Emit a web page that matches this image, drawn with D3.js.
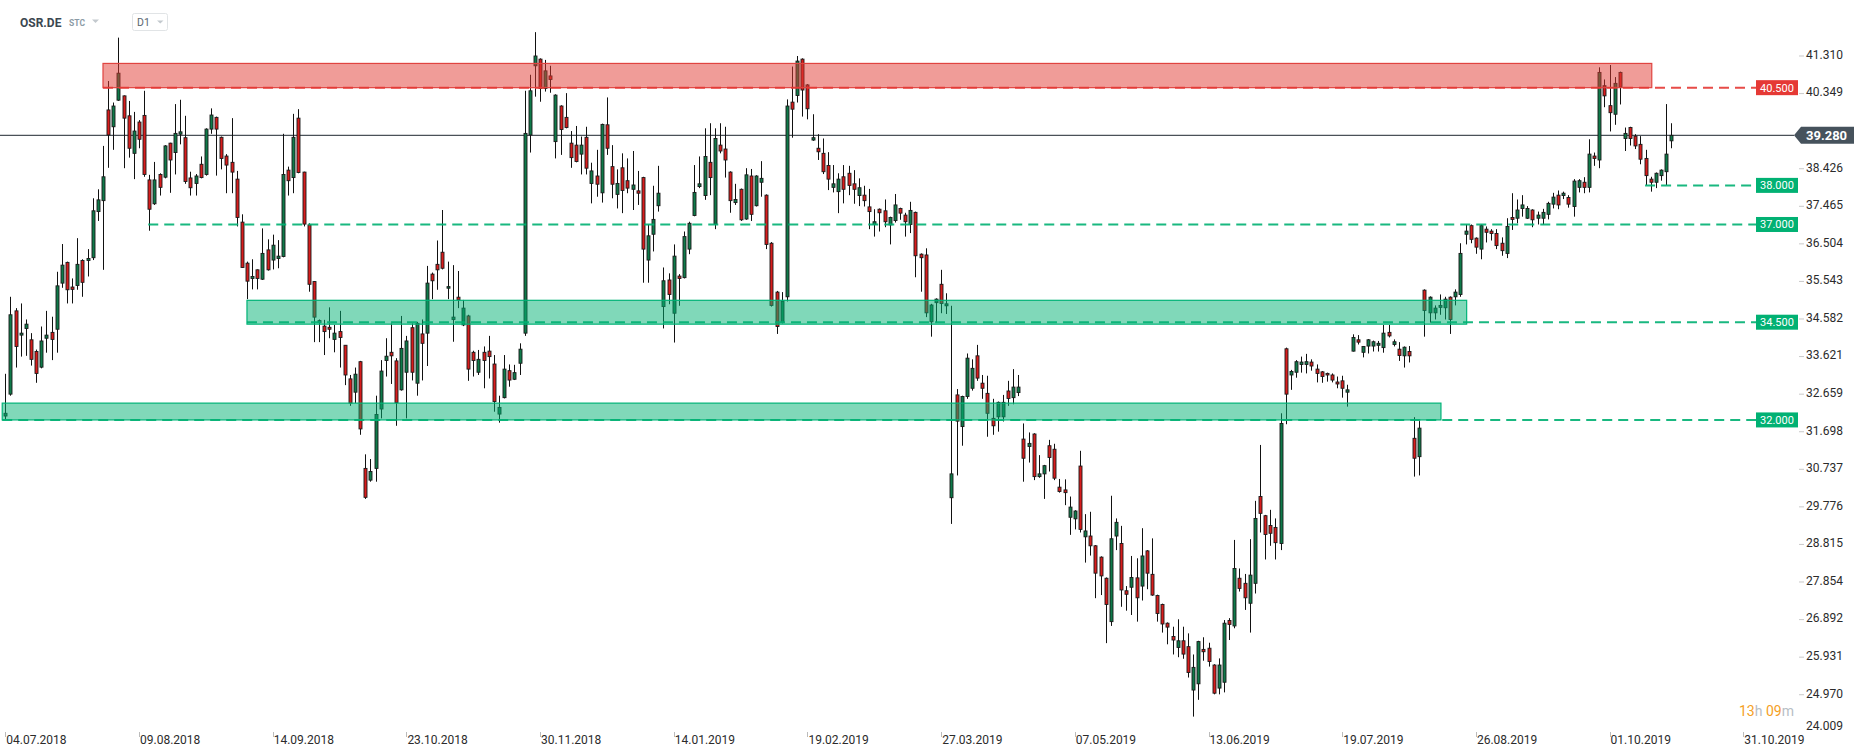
<!DOCTYPE html>
<html>
<head>
<meta charset="utf-8">
<script src="https://cdn.jsdelivr.net/npm/d3@7/dist/d3.min.js"></script>
<style>
  html, body { margin: 0; padding: 0; background: #ffffff; }
  svg { display: block; font-family: Roboto, "Noto Sans", Arial, sans-serif; }
</style>
</head>
<body>
<svg id="chart" width="1866" height="756"></svg>
<script>
// ---------- DATA ----------
const symbol = "OSR.DE";
const market = "STC";
const interval = "D1";
const countdown = ["13", "h ", "09", "m"];

const openP = [
32.10,32.66,34.79,34.17,34.34,34.05,33.75,33.35,34.09,34.24,34.32,35.50,36.03,35.40,35.44,36.08,36.08,36.15,37.33,37.61,
39.93,39.50,40.18,40.29,39.78,38.82,39.62,39.79,38.14,37.53,38.28,38.21,39.08,38.84,39.31,39.22,38.19,38.05,38.54,38.28,
39.44,39.74,39.23,38.75,38.59,38.16,37.06,36.01,35.62,35.84,35.60,36.35,36.09,36.13,36.18,38.39,38.20,39.72,38.34,36.99,
35.54,34.49,34.40,34.37,34.06,34.26,33.91,33.05,32.71,33.49,30.76,30.46,30.76,32.28,33.52,33.73,33.51,32.77,33.22,34.36,
32.94,34.20,34.22,35.73,35.98,36.29,35.37,34.57,35.14,34.43,34.66,33.73,33.22,33.73,33.76,33.43,32.15,32.57,33.26,33.04,
33.45,34.22,39.29,41.06,41.23,40.48,40.80,39.12,40.03,39.74,39.08,39.03,38.80,39.23,38.05,38.24,37.81,39.55,38.48,37.77,
38.45,38.12,37.90,37.86,38.20,36.09,36.75,37.48,34.90,35.58,34.73,35.68,35.64,36.37,37.23,37.97,37.74,38.59,37.01,39.03,
38.93,38.34,37.56,37.90,37.14,38.24,37.48,38.08,37.75,36.52,35.27,34.49,35.15,40.13,40.30,41.23,40.57,39.16,38.95,38.82,
38.51,37.95,37.84,38.22,38.31,38.04,37.74,37.75,37.45,37.00,37.39,37.35,36.99,37.10,37.41,37.24,37.00,37.31,36.24,36.22,
34.51,35.00,35.47,34.92,30.01,32.64,31.83,32.60,32.81,33.64,32.94,32.68,32.04,32.08,32.08,32.74,32.57,32.70,31.51,31.32,
31.64,30.55,30.62,31.34,31.25,30.28,30.21,29.51,29.47,30.82,29.01,29.03,28.78,28.49,27.95,26.84,29.03,28.84,27.63,27.72,
27.96,27.75,28.65,28.05,27.51,27.28,26.80,26.46,26.18,26.35,26.20,25.09,25.25,26.13,26.16,25.73,25.14,25.29,26.87,26.73,
27.95,27.82,27.31,27.82,30.04,29.55,29.30,29.25,28.84,33.82,33.15,33.22,33.42,33.42,33.48,33.30,33.23,33.19,33.15,32.97,
33.00,32.71,33.76,34.05,33.73,33.89,33.89,33.91,33.85,34.24,33.93,33.81,33.64,33.75,31.53,31.06,35.32,34.74,34.74,34.88,
34.87,35.14,35.15,35.21,36.75,36.97,36.65,36.37,36.88,36.83,36.77,36.52,36.26,37.18,37.16,37.41,37.16,37.37,37.16,37.16,
37.26,37.52,37.75,37.74,37.69,37.46,37.95,38.08,37.95,38.75,38.65,40.55,40.04,39.82,40.89,39.20,39.48,39.26,39.05,38.69,
38.16,38.08,38.25,38.35,39.14];

const highP = [
33.18,35.15,34.86,34.98,34.57,34.22,33.80,34.39,34.79,34.64,35.79,36.50,36.05,35.62,36.65,36.11,36.37,37.67,37.90,39.01,
40.67,40.12,41.78,40.30,40.16,39.88,39.67,40.42,38.27,38.60,38.31,39.03,39.09,40.08,40.19,39.78,38.35,38.29,38.74,39.46,
39.97,39.76,39.25,38.80,39.72,38.37,37.26,36.05,36.11,35.85,36.90,36.62,36.74,36.60,39.32,38.48,39.83,39.95,38.35,37.03,
35.55,34.57,34.56,34.88,34.43,34.79,33.91,33.15,33.34,33.51,31.12,31.00,32.62,33.53,34.09,34.47,33.58,34.66,34.15,34.47,
34.51,34.57,35.94,35.77,36.59,37.37,36.05,35.96,35.81,35.07,34.69,33.77,33.79,33.88,34.15,33.66,32.62,33.66,33.42,33.41,
33.96,40.42,40.83,41.92,41.25,41.21,41.06,40.33,40.05,40.36,39.39,39.52,39.25,39.50,38.58,38.91,39.58,40.25,39.03,38.41,
38.82,38.69,38.88,38.37,38.22,37.00,37.99,38.50,35.90,35.75,36.49,35.73,36.82,37.07,38.52,38.74,39.46,39.59,39.46,39.59,
39.50,38.36,38.04,37.92,38.44,38.42,38.26,38.62,37.77,36.55,35.30,35.27,40.20,41.04,41.31,41.25,40.59,39.82,39.31,39.20,
38.85,38.52,38.31,38.52,38.50,38.39,38.18,37.99,37.91,37.39,37.41,37.64,37.20,37.78,37.43,37.30,37.58,37.33,36.26,36.39,
34.97,35.11,35.84,35.24,34.92,32.79,32.62,33.70,33.55,33.92,33.15,33.13,32.54,32.47,32.64,33.00,33.30,33.15,31.91,31.68,
31.66,31.10,30.85,31.49,31.39,30.49,30.48,30.04,29.69,31.21,29.59,29.65,28.80,28.51,27.97,30.06,29.48,29.29,27.75,28.52,
28.46,29.23,28.67,28.97,27.53,27.30,26.82,26.71,26.90,26.71,26.54,26.00,26.35,26.44,26.30,25.75,25.90,26.88,26.93,28.93,
28.20,28.06,28.95,29.93,31.36,29.57,29.70,29.48,32.17,33.85,33.28,33.53,33.62,33.69,33.55,33.42,33.25,33.21,33.19,33.11,
33.13,32.90,34.19,34.17,33.89,34.07,34.03,34.02,34.43,34.43,34.06,33.99,33.88,33.89,32.07,31.97,35.34,35.16,34.93,35.21,
35.15,35.16,35.34,36.52,37.00,37.00,36.67,37.00,36.95,36.88,36.88,36.67,37.16,37.80,37.64,37.75,37.47,37.39,37.33,37.40,
37.58,37.81,37.87,37.84,37.75,38.16,38.16,38.21,39.18,38.84,41.02,40.71,41.08,40.77,40.91,39.48,39.50,39.31,39.26,38.91,
38.22,38.33,38.41,40.08,39.59];

const lowP = [
32.00,32.62,33.34,33.62,33.64,33.39,32.95,33.32,33.72,33.53,33.72,35.38,34.98,34.98,35.33,35.15,35.67,36.09,37.09,35.84,
38.45,38.91,40.16,38.44,38.71,38.16,38.95,38.22,36.84,37.50,37.74,38.18,37.81,38.28,39.05,38.04,37.74,37.74,38.18,38.25,
39.32,38.25,38.41,37.80,37.80,36.95,35.89,35.09,35.34,35.34,35.58,35.82,35.85,35.88,36.16,37.74,37.80,38.31,36.95,35.28,
33.99,33.99,33.66,34.09,33.73,33.34,32.89,32.36,32.43,31.62,29.98,30.42,30.42,32.04,33.11,32.92,31.85,32.75,32.04,33.01,
32.62,33.01,33.38,35.09,35.33,35.85,35.09,34.00,34.86,34.40,33.00,33.11,33.15,32.81,33.06,32.21,31.93,32.55,32.85,33.02,
33.15,34.15,38.84,40.27,40.14,40.40,40.37,38.69,38.78,39.46,38.45,38.59,38.28,38.28,37.54,37.71,37.56,38.78,37.67,37.41,
37.29,37.80,37.37,37.50,35.51,35.51,36.31,37.33,34.34,34.96,33.98,34.92,35.62,36.24,37.21,37.93,37.63,37.75,36.88,38.82,
38.20,37.30,37.50,37.09,37.12,37.09,37.46,37.71,36.37,34.90,34.20,34.47,35.03,39.22,40.12,39.76,39.69,39.14,38.65,38.29,
37.88,37.82,37.29,37.54,37.75,37.53,37.47,37.46,36.88,36.69,36.82,36.93,36.49,37.05,37.12,36.69,36.78,35.65,35.28,34.63,
34.13,34.49,34.73,34.71,29.34,30.58,31.34,32.54,32.75,33.00,32.54,31.57,31.62,31.70,31.96,32.36,32.40,32.61,30.42,30.91,
30.46,30.52,29.98,30.68,30.46,30.14,29.82,29.06,29.20,29.12,28.35,28.53,27.44,27.52,26.29,26.73,28.67,27.22,27.12,27.01,
26.84,27.38,27.67,27.50,26.84,26.56,26.26,26.00,25.93,25.89,25.41,24.41,24.84,25.84,25.69,24.98,24.98,25.03,26.37,26.67,
27.61,27.14,26.56,27.56,29.12,28.43,28.78,28.43,28.67,31.89,32.77,33.08,33.21,33.19,33.26,32.96,32.95,32.98,32.96,32.81,
32.57,32.34,33.75,33.93,33.60,33.70,33.75,33.75,33.72,34.11,33.88,33.51,33.34,33.47,30.55,30.58,34.13,34.49,34.57,34.69,
34.57,34.20,34.93,35.15,36.49,36.52,36.25,36.11,36.54,36.59,36.37,36.20,36.14,36.86,37.03,37.20,37.14,36.93,37.00,37.00,
37.13,37.41,37.39,37.65,37.43,37.20,37.82,37.80,37.82,38.50,38.44,40.00,39.38,39.55,40.07,38.88,39.02,38.93,38.54,38.01,
37.84,37.93,38.12,38.01,38.95];

const closeP = [
32.17,34.69,33.88,34.22,34.45,33.55,33.19,34.02,34.17,34.06,35.43,35.96,35.33,35.34,35.98,35.52,36.13,37.35,37.63,38.22,
39.29,40.03,40.87,39.72,38.95,39.39,39.18,38.28,37.39,38.14,37.95,39.01,38.65,39.33,39.37,38.10,37.94,38.24,38.20,39.44,
39.80,39.44,38.69,38.52,38.34,37.18,35.90,35.55,35.67,35.62,36.26,35.84,36.47,36.19,38.28,38.12,39.23,38.33,37.01,35.47,
34.63,34.54,34.26,34.32,34.22,34.11,33.15,32.43,33.17,31.77,30.02,30.68,32.14,33.25,33.63,33.64,32.44,33.83,34.02,33.22,
34.47,33.96,35.50,35.56,35.84,35.88,35.41,34.63,35.07,34.86,33.30,33.52,33.55,33.52,33.62,32.47,32.32,33.30,33.02,33.21,
33.81,39.33,40.42,41.31,40.48,40.93,40.71,40.31,39.43,39.48,38.71,38.61,39.03,38.44,38.37,38.03,39.56,38.95,38.03,38.05,
37.87,37.93,38.01,37.80,36.37,36.71,37.13,37.80,35.56,35.21,36.19,35.62,36.69,37.03,37.82,38.04,38.74,38.20,39.20,38.88,
38.65,37.61,37.64,37.12,38.27,37.26,38.24,38.18,36.49,34.93,34.39,35.04,40.03,39.95,41.18,40.44,39.96,39.22,38.86,38.35,
38.16,38.04,38.16,37.90,38.00,37.90,37.94,37.61,37.33,37.07,37.30,37.07,37.18,37.50,37.29,37.07,37.36,36.20,36.15,34.74,
34.94,35.09,34.98,34.97,30.62,31.97,32.60,33.58,33.32,33.07,32.81,32.17,31.85,32.45,32.45,32.55,32.84,32.84,31.02,31.40,
30.55,30.62,30.83,31.04,30.51,30.17,30.14,29.77,29.67,29.20,29.16,28.78,28.08,28.01,27.28,28.96,29.38,27.65,27.54,27.97,
27.45,28.52,28.08,27.52,27.05,26.78,26.70,26.37,26.35,26.01,25.54,25.67,26.33,26.07,25.82,25.01,25.73,26.80,26.77,28.20,
27.69,27.45,28.03,29.48,29.61,29.07,29.10,28.86,31.91,32.66,33.24,33.49,33.48,33.49,33.38,33.19,33.11,33.15,33.02,32.92,
32.81,32.77,34.11,33.99,33.88,34.05,34.00,33.96,34.22,34.15,34.00,33.65,33.86,33.64,31.02,31.79,34.80,35.14,34.86,34.93,
35.09,34.57,35.27,36.26,36.83,36.62,36.42,36.97,36.80,36.77,36.46,36.33,36.95,37.13,37.37,37.50,37.41,37.12,37.24,37.31,
37.54,37.70,37.50,37.80,37.52,38.11,38.12,37.95,38.80,38.69,40.89,40.29,39.86,40.61,40.51,39.33,39.20,39.01,38.67,38.25,
38.08,38.31,38.39,38.80,39.28];

const dateLabels = ["04.07.2018","09.08.2018","14.09.2018","23.10.2018","30.11.2018","14.01.2019","19.02.2019",
                    "27.03.2019","07.05.2019","13.06.2019","19.07.2019","26.08.2019","01.10.2019","31.10.2019"];
const barsPerLabel = 26;

const priceTickLabels = ["24.009","24.970","25.931","26.892","27.854","28.815","29.776","30.737","31.698","32.659",
                         "33.621","34.582","35.543","36.504","37.465","38.426","39.387","40.349","41.310"];

const currentPrice = 39.280;

// zones: [start bar, end bar, low price, high price]
const zoneStart = [19, 47, -0.6];
const zoneEnd   = [320.2, 284.2, 279.2];
const zoneLow   = [40.50, 34.45, 32.00];
const zoneHigh  = [41.12, 35.06, 32.43];
const zoneKind  = ["res", "sup", "sup"];

// horizontal levels: [price, first bar]
const levelPrice = [40.5, 38.0, 37.0, 34.5, 32.0];
const levelStart = [19, 318.9, 27.8, 47, -0.6];
const levelKind  = ["res", "sup", "sup", "sup", "sup"];

// ---------- STYLE ----------
const GREEN = "#01b173", RED = "#e53935";
const UP = "#0f7a4a", DOWN = "#d81c1c";

const svg = d3.select("#chart");
const N = closeP.length;
const candles = d3.range(N).map(i => ({i, o: openP[i], h: highP[i], l: lowP[i], c: closeP[i]}));

const x = d3.scaleLinear().domain([0, barsPerLabel * (dateLabels.length - 1)]).range([5.3, 1743.3]);
const y = d3.scaleLinear().domain([24.009, 41.310]).range([732.3, 56.0]);

const labelX = 1756, labelW = 42, labelH = 15;
const cy = y(currentPrice);

// current price line (under candles)
svg.append("line")
  .attr("x1", 0).attr("x2", 1794)
  .attr("y1", cy).attr("y2", cy)
  .attr("stroke", "#4a5158").attr("stroke-width", 1.2);

// candles
const cg = svg.append("g");
cg.selectAll("line.wick").data(candles).join("line")
  .attr("class", "wick")
  .attr("x1", d => Math.round(x(d.i)) + 0.5).attr("x2", d => Math.round(x(d.i)) + 0.5)
  .attr("y1", d => y(d.h)).attr("y2", d => y(d.l))
  .attr("stroke", "#111").attr("stroke-width", 1);
cg.selectAll("rect.body").data(candles).join("rect")
  .attr("class", "body")
  .attr("x", d => Math.round(x(d.i)) - 1)
  .attr("width", 3)
  .attr("y", d => y(Math.max(d.o, d.c)))
  .attr("height", d => Math.max(1.2, Math.abs(y(d.o) - y(d.c))))
  .attr("fill", d => d.c >= d.o ? UP : DOWN)
  .attr("stroke", "#1a1a1a").attr("stroke-width", 0.9);

// zones (semi-transparent, over candles)
svg.append("g").selectAll("rect").data(d3.range(zoneStart.length)).join("rect")
  .attr("x", k => Math.max(2, x(zoneStart[k])))
  .attr("width", k => x(zoneEnd[k]) - Math.max(2, x(zoneStart[k])))
  .attr("y", k => y(zoneHigh[k]))
  .attr("height", k => y(zoneLow[k]) - y(zoneHigh[k]))
  .attr("fill", k => zoneKind[k] === "res" ? "rgba(225,57,50,0.5)" : "rgba(1,177,115,0.5)")
  .attr("stroke", k => zoneKind[k] === "res" ? "#e04440" : "#00b377")
  .attr("stroke-width", 1.2);

// dashed levels and their labels
const lg = svg.append("g");
lg.selectAll("line").data(d3.range(levelPrice.length)).join("line")
  .attr("x1", k => Math.max(2, x(levelStart[k]))).attr("x2", labelX)
  .attr("y1", k => y(levelPrice[k])).attr("y2", k => y(levelPrice[k]))
  .attr("stroke", k => levelKind[k] === "res" ? RED : GREEN)
  .attr("stroke-width", 2).attr("stroke-dasharray", "10,6").attr("opacity", 0.9);
lg.selectAll("rect").data(d3.range(levelPrice.length)).join("rect")
  .attr("x", labelX).attr("width", labelW)
  .attr("y", k => y(levelPrice[k]) - labelH / 2).attr("height", labelH)
  .attr("fill", k => levelKind[k] === "res" ? RED : GREEN);
lg.selectAll("text").data(d3.range(levelPrice.length)).join("text")
  .attr("x", labelX + labelW / 2).attr("y", k => y(levelPrice[k]) + 4)
  .attr("text-anchor", "middle").attr("font-size", 11).attr("fill", "#fff")
  .text(k => levelPrice[k].toFixed(3));

// right price axis (the tick hidden under the current price tag keeps only its mark)
const ag = svg.append("g");
const plotBottom = y.range()[0];
const tagHalf = 8.5;
ag.selectAll("line").data(priceTickLabels.filter(s => y(+s) < plotBottom - 4)).join("line")
  .attr("x1", 1799).attr("x2", 1804)
  .attr("y1", s => y(+s)).attr("y2", s => y(+s))
  .attr("stroke", "#c9c9c9").attr("stroke-width", 1);
ag.selectAll("text").data(priceTickLabels.filter(s => Math.abs(y(+s) - cy) > tagHalf + 2)).join("text")
  .attr("x", 1806)
  .attr("y", s => Math.min(y(+s) - 1.5, plotBottom - 7) + 4.3)
  .attr("font-size", 12).attr("fill", "#2b2b2b")
  .text(s => s);

// current price tag
svg.append("path")
  .attr("d", `M1794,${cy} L1801,${cy - tagHalf} L1854,${cy - tagHalf} L1854,${cy + tagHalf} L1801,${cy + tagHalf} Z`)
  .attr("fill", "#46525c");
svg.append("text").attr("x", 1806).attr("y", cy + 4.6)
  .attr("font-size", 13).attr("font-weight", "bold").attr("fill", "#fff")
  .text(currentPrice.toFixed(3));

// bottom date axis
const dg = svg.append("g");
const dateIdx = dateLabels.map((d, k) => k * barsPerLabel);
dg.selectAll("line").data(dateIdx).join("line")
  .attr("x1", i => Math.round(x(i)) + 0.5).attr("x2", i => Math.round(x(i)) + 0.5)
  .attr("y1", 732).attr("y2", 737)
  .attr("stroke", "#bbb").attr("stroke-width", 1);
dg.selectAll("text").data(dateIdx).join("text")
  .attr("x", i => x(i) + 1).attr("y", 743.5)
  .attr("font-size", 12).attr("fill", "#2b2b2b")
  .text((i, k) => dateLabels[k]);

// countdown
const ct = svg.append("text").attr("x", 1739).attr("y", 716).attr("font-size", 14);
countdown.forEach((s, k) => ct.append("tspan").attr("fill", k % 2 === 0 ? "#f5a01f" : "#b7bec5").text(s));

// header
svg.append("text").attr("x", 20).attr("y", 27).attr("font-size", 12).attr("font-weight", "bold")
  .attr("fill", "#3b4750").text(symbol);
svg.append("text").attr("x", 69).attr("y", 26).attr("font-size", 8.5).attr("font-weight", "bold")
  .attr("fill", "#8c9ba6").text(market);
svg.append("path").attr("d", "M92,19.5 L99,19.5 L95.5,23 Z").attr("fill", "#c3c9ce");
svg.append("rect").attr("x", 132.5).attr("y", 13.5).attr("width", 35).attr("height", 17).attr("rx", 2)
  .attr("fill", "#fff").attr("stroke", "#e1e4e6");
svg.append("text").attr("x", 137).attr("y", 26).attr("font-size", 10.5).attr("fill", "#5a6670").text(interval);
svg.append("path").attr("d", "M157,20.5 L163.5,20.5 L160.25,23.5 Z").attr("fill", "#c3c9ce");
</script>
</body>
</html>
